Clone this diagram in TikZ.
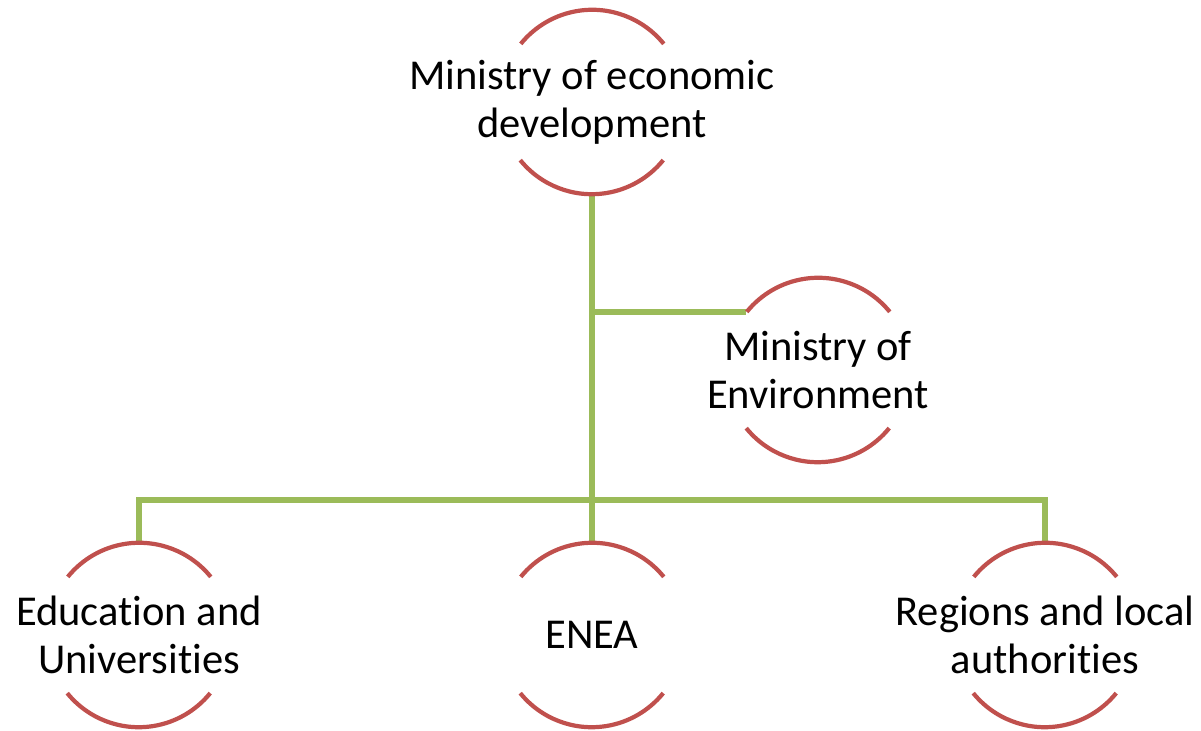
\documentclass[tikz,border=0pt]{standalone}
\usepackage{fontspec}
\setmainfont[Ligatures=NoCommon]{Carlito}
\usepackage{tikz}

\definecolor{ringred}{HTML}{C0504D}
\definecolor{linkgreen}{HTML}{9BBB59}

\tikzset{
  ring/.style={circle, minimum size=3.68cm, inner sep=0pt},
  ringtext/.style={align=center, font=\fontsize{24.2}{27.3}\selectfont},
  arcline/.style={ringred, line width=2.4pt},
  link/.style={linkgreen, line width=3pt}
}

\begin{document}
\begin{tikzpicture}
\useasboundingbox (0,0) rectangle (24.02,14.62);

%%rings (only the upper and lower arcs are drawn)
\node [ring, label={[ringtext]center:Ministry of economic\\development}] (med) at (11.84,12.58) {};
\node [ring, label={[ringtext]center:Ministry of\\Environment}] (env) at (16.36,7.22) {};
\node [ring, label={[ringtext]center:Education and\\Universities}] (edu) at (2.78,1.92) {};
\node [ring, label={[ringtext]center:ENEA}] (enea) at (11.84,1.92) {};
\node [ring, label={[ringtext]center:Regions and local\\authorities}] (reg) at (20.90,1.92) {};

\coordinate (bar) at (11.84,4.62);
   %height of the horizontal bar

%%green connectors
\draw [link] (med.south) -- (enea.north);
\draw [link] (med.south |- env.141) -- (env.141);
\draw [link] (edu.north) |- (bar) -| (reg.north);

%%red arcs
\foreach \r in {med,env,edu,enea,reg}{
  \draw [arcline] (\r.39) arc (39:141:1.84cm);
  \draw [arcline] (\r.219) arc (219:321:1.84cm);
}
\end{tikzpicture}
\end{document}
